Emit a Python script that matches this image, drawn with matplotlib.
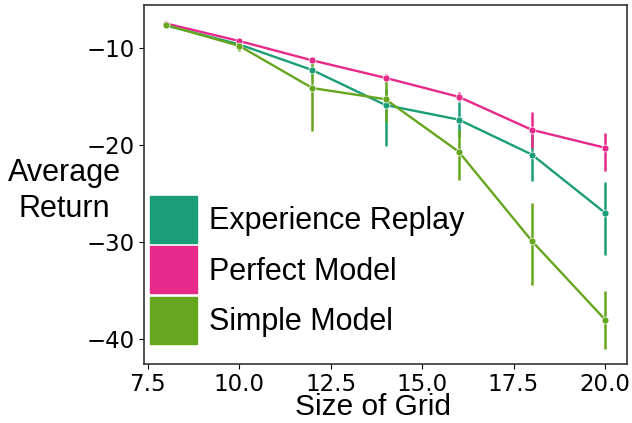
import matplotlib
matplotlib.use("Agg")
import matplotlib.pyplot as plt
import matplotlib.patches as mpatches

grid = [8, 10, 12, 14, 16, 18, 20]
labels = ["Experience Replay", "Perfect Model", "Simple Model"]
colors = ["#1b9e77", "#e7298a", "#66a61e"]

# mean return, with lower / upper end of the error bars
er_mean = [-7.7, -9.65, -12.3, -15.9, -17.4, -21.0, -27.0]
er_low = [-7.9, -9.9, -12.8, -20.1, -19.2, -23.7, -31.3]
er_high = [-7.5, -9.4, -11.8, -14.2, -15.6, -19.0, -23.8]

pm_mean = [-7.5, -9.3, -11.3, -13.1, -15.05, -18.45, -20.3]
pm_low = [-7.7, -9.5, -11.6, -13.5, -15.5, -20.3, -22.7]
pm_high = [-7.3, -9.1, -11.0, -12.7, -14.6, -16.6, -18.8]

sm_mean = [-7.65, -9.8, -14.15, -15.3, -20.7, -29.9, -38.0]
sm_low = [-7.8, -10.3, -18.6, -17.6, -23.6, -34.4, -41.0]
sm_high = [-7.5, -9.3, -11.4, -13.3, -18.5, -26.0, -35.1]

series = [(er_mean, er_low, er_high), (pm_mean, pm_low, pm_high), (sm_mean, sm_low, sm_high)]

fig = plt.figure(figsize=(6.32, 4.23), dpi=100)
ax = fig.add_axes([0.228, 0.139, 0.764, 0.849])

for (m, lo, hi), c in zip(series, colors):
    yerr = [[a - b for a, b in zip(m, lo)], [b - a for a, b in zip(m, hi)]]
    ax.errorbar(grid, m, yerr=yerr, color=c, lw=1.7, elinewidth=1.8, marker="o", ms=5,
                mec="white", mew=0.5)

ax.set_ylim(-42.6, -5.6)
ax.set_xticks([7.5, 10.0, 12.5, 15.0, 17.5, 20.0])
ax.set_yticks([-10, -20, -30, -40])
ax.tick_params(labelsize=16.5)
ax.tick_params(axis="x", pad=2.5)
for s in ax.spines.values():
    s.set_color("#333333")
    s.set_linewidth(1.2)

ax.set_xlabel("Size of Grid", fontsize=21.5, family="Liberation Sans")
ax.xaxis.set_label_coords(0.474, -0.081)
ax.set_ylabel("Average\nReturn", fontsize=22, family="Liberation Sans", rotation=0,
              ha="center", va="center", linespacing=1.26)
ax.yaxis.set_label_coords(-0.165, 0.483)

handles = [mpatches.Patch(color=c, label=l) for c, l in zip(colors, labels)]
ax.legend(handles=handles, loc="lower left", bbox_to_anchor=(0.012, 0.056),
          frameon=False, borderaxespad=0, borderpad=0, handlelength=1.53,
          handleheight=1.99, labelspacing=0.12, handletextpad=0.42,
          prop={"family": "Liberation Sans", "size": 22})

fig.savefig("out.png", dpi=100)
